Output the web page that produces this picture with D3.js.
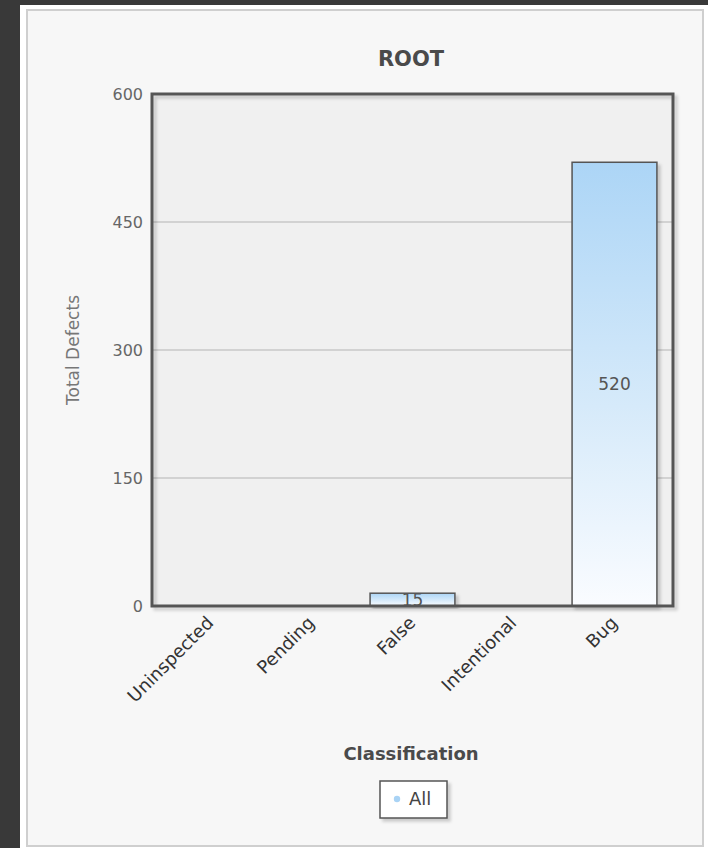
<!DOCTYPE html>
<html>
<head>
<meta charset="utf-8">
<script src="https://cdn.jsdelivr.net/npm/d3@7"></script>
<style>
  html, body { margin: 0; padding: 0; background: #393939; }
  svg { display: block; }
  text { font-family: "DejaVu Sans", Verdana, sans-serif; }
</style>
</head>
<body>
<svg id="chart" width="708" height="848"></svg>
<script>
// Defect totals per triage classification
const categories = ["Uninspected", "Pending", "False", "Intentional", "Bug"];
const totals = [0, 0, 15, 0, 520];
const yTicks = [0, 150, 300, 450, 600];
const seriesName = "All";
const chartTitle = "ROOT";
const xTitle = "Classification";
const yTitle = "Total Defects";

const W = 708, H = 848;
const plot = { left: 152, right: 673, top: 94, bottom: 606 };

const svg = d3.select("#chart");
const defs = svg.append("defs");

// vertical fill for the bars: light blue at the top fading to near white
const grad = defs.append("linearGradient")
  .attr("id", "barFill").attr("x1", 0).attr("y1", 0).attr("x2", 0).attr("y2", 1);
grad.append("stop").attr("offset", "0%").attr("stop-color", "#acd5f6");
grad.append("stop").attr("offset", "55%").attr("stop-color", "#d6eafa");
grad.append("stop").attr("offset", "100%").attr("stop-color", "#fafcff");

// soft drop shadow used by the plot frame, bars and legend
const sh = defs.append("filter").attr("id", "shadow")
  .attr("x", "-10%").attr("y", "-10%").attr("width", "130%").attr("height", "130%");
sh.append("feDropShadow").attr("dx", 3).attr("dy", 3).attr("stdDeviation", 1.5)
  .attr("flood-color", "#000").attr("flood-opacity", 0.18);

// page panel
svg.append("rect").attr("x", 20).attr("y", 5).attr("width", W - 20).attr("height", H - 5)
  .attr("fill", "#ffffff");
svg.append("rect").attr("x", 27).attr("y", 10).attr("width", 676).attr("height", 836)
  .attr("fill", "#f7f7f7").attr("stroke", "#cfcfcf").attr("stroke-width", 2);

const x = d3.scaleBand()
  .domain(categories)
  .range([plot.left + 8, plot.right - 8])
  .paddingInner(0.16)
  .paddingOuter(0.08);

const y = d3.scaleLinear()
  .domain([0, 600])
  .range([plot.bottom, plot.top]);

// plot background
svg.append("rect")
  .attr("x", plot.left).attr("y", plot.top)
  .attr("width", plot.right - plot.left).attr("height", plot.bottom - plot.top)
  .attr("fill", "#f0f0f0");

// horizontal grid lines
svg.append("g").selectAll("line")
  .data(yTicks.filter(t => t > 0 && t < 600))
  .join("line")
  .attr("x1", plot.left).attr("x2", plot.right)
  .attr("y1", d => y(d)).attr("y2", d => y(d))
  .attr("stroke", "#c9c9c9").attr("stroke-width", 1.5);

// y axis labels
const yAxis = d3.axisLeft(y).tickValues(yTicks).tickSize(0).tickPadding(9);
const yg = svg.append("g").attr("transform", `translate(${plot.left},0)`).call(yAxis);
yg.select(".domain").remove();
yg.selectAll("text").attr("font-size", 16).attr("fill", "#666")
  .attr("font-family", "DejaVu Sans, Verdana, sans-serif");

// bars
const bars = svg.append("g");
categories.forEach((c, i) => {
  const v = totals[i];
  if (v <= 0) return;
  const bx = x(c), bw = x.bandwidth(), by = y(v), bh = y(0) - y(v);
  const clipId = "clip" + i;
  defs.append("clipPath").attr("id", clipId)
    .append("rect").attr("x", bx).attr("y", by).attr("width", bw).attr("height", bh);
  bars.append("rect")
    .attr("x", bx).attr("y", by).attr("width", bw).attr("height", bh)
    .attr("fill", "url(#barFill)")
    .attr("stroke", "#555").attr("stroke-width", 1.5)
    .attr("filter", "url(#shadow)");
  bars.append("text")
    .attr("clip-path", `url(#${clipId})`)
    .attr("x", bx + bw / 2).attr("y", (by + y(0)) / 2)
    .attr("dy", "0.36em")
    .attr("text-anchor", "middle")
    .attr("font-size", 17).attr("fill", "#555")
    .text(v);
});

// plot frame
svg.append("rect")
  .attr("x", plot.left).attr("y", plot.top)
  .attr("width", plot.right - plot.left).attr("height", plot.bottom - plot.top)
  .attr("fill", "none").attr("stroke", "#555").attr("stroke-width", 3)
  .attr("filter", "url(#shadow)");

// category labels, rotated
const xAxis = d3.axisBottom(x).tickSize(0).tickPadding(0);
const xg = svg.append("g").attr("transform", `translate(0,${plot.bottom})`).call(xAxis);
xg.select(".domain").remove();
xg.selectAll("text")
  .attr("font-size", 18).attr("fill", "#333")
  .attr("font-family", "DejaVu Sans, Verdana, sans-serif")
  .attr("text-anchor", "end")
  .attr("y", 0).attr("dy", 0)
  .attr("transform", "translate(4,18) rotate(-45)");

// titles
svg.append("text").attr("x", 411).attr("y", 66).attr("text-anchor", "middle")
  .attr("font-size", 21).attr("font-weight", "bold").attr("fill", "#4a4a4a")
  .text(chartTitle);
svg.append("text").attr("x", 411).attr("y", 760).attr("text-anchor", "middle")
  .attr("font-size", 18).attr("font-weight", "bold").attr("fill", "#4a4a4a")
  .text(xTitle);
svg.append("text")
  .attr("transform", `translate(79,${(plot.top + plot.bottom) / 2}) rotate(-90)`)
  .attr("text-anchor", "middle")
  .attr("font-size", 17).attr("fill", "#777")
  .text(yTitle);

// legend
const lg = svg.append("g").attr("transform", "translate(380,781)");
lg.append("rect").attr("width", 67).attr("height", 37)
  .attr("fill", "#ffffff").attr("stroke", "#555").attr("stroke-width", 1.5)
  .attr("filter", "url(#shadow)");
lg.append("circle").attr("cx", 17).attr("cy", 18).attr("r", 3.2).attr("fill", "#a9d3f5");
lg.append("text").attr("x", 29).attr("y", 18).attr("dy", "0.36em")
  .attr("font-size", 18).attr("fill", "#444").text(seriesName);
</script>
</body>
</html>
